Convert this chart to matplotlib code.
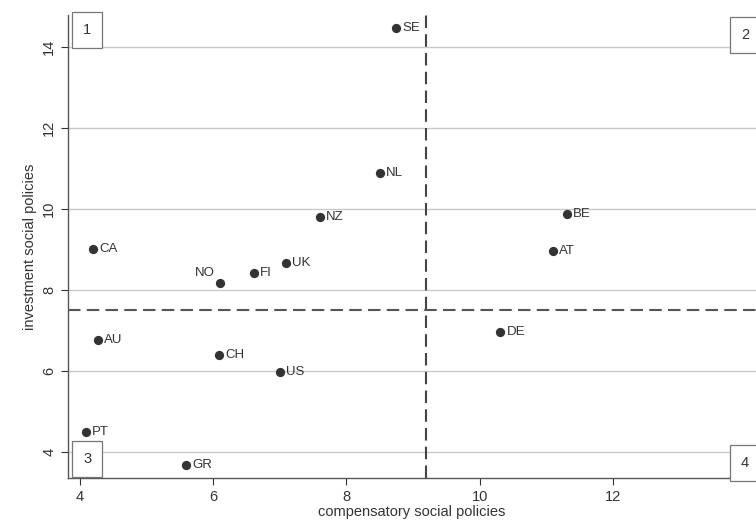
import matplotlib.pyplot as plt

# Country positions: compensatory vs investment social policies
countries = ["SE", "NL", "NZ", "BE", "AT", "CA", "UK", "FI", "NO",
             "DE", "AU", "CH", "US", "PT", "GR"]
compensatory = [8.74, 8.50, 7.60, 11.31, 11.10, 4.20, 7.09, 6.61, 6.10,
                10.31, 4.27, 6.09, 7.00, 4.09, 5.59]
investment = [14.47, 10.89, 9.80, 9.88, 8.96, 9.01, 8.67, 8.42, 8.17,
              6.96, 6.77, 6.40, 5.98, 4.49, 3.68]

# Means used to split the plane into quadrants
x_split = 9.2
y_split = 7.5

x_ticks = [4, 6, 8, 10, 12]
y_ticks = [4, 6, 8, 10, 12, 14]

plt.rcParams['font.family'] = ['Liberation Sans', 'DejaVu Sans']

fig = plt.figure(figsize=(7.56, 5.31), dpi=100)
ax = fig.add_axes([0.09, 0.0998, 0.91, 0.872])
ax.set_xlim(3.82, 14.15)
ax.set_ylim(3.36, 14.79)

# horizontal grid
for y in y_ticks:
    ax.axhline(y, color='#c9c9c9', lw=1.0, zorder=0)

ax.axvline(x_split, color='#444444', lw=1.5, ls=(0, (6, 3)), zorder=1)
ax.axhline(y_split, color='#555555', lw=1.5, ls=(0, (6, 3)), zorder=1)

ax.scatter(compensatory, investment, s=32, color='#333333', zorder=3)

for name, x, y in zip(countries, compensatory, investment):
    if name == "NO":
        ax.annotate(name, (x, y), xytext=(-4, 3), textcoords='offset points',
                    ha='right', va='bottom', fontsize=9.5, color='#333333')
    else:
        ax.annotate(name, (x, y), xytext=(4.5, 0), textcoords='offset points',
                    ha='left', va='center', fontsize=9.5, color='#333333')

# quadrant numbers
box = dict(boxstyle='square,pad=0.75', fc='white', ec='#777777', lw=0.9)
ax.text(0.022, 0.982, "1", transform=ax.transAxes, ha='left', va='top',
        fontsize=10.5, color='#333333', bbox=box)
ax.text(0.99, 0.972, "2", transform=ax.transAxes, ha='right', va='top',
        fontsize=10.5, color='#333333', bbox=box)
ax.text(0.022, 0.025, "3", transform=ax.transAxes, ha='left', va='bottom',
        fontsize=10.5, color='#333333', bbox=box)
ax.text(0.99, 0.018, "4", transform=ax.transAxes, ha='right', va='bottom',
        fontsize=10.5, color='#333333', bbox=box)

ax.set_xticks(x_ticks)
ax.set_yticks(y_ticks)
for t in ax.get_yticklabels():
    t.set_rotation(90)
    t.set_va('center')
ax.tick_params(axis='both', labelsize=10.5, colors='#333333', length=5, width=0.8)

for side in ['top', 'right']:
    ax.spines[side].set_visible(False)
for side in ['left', 'bottom']:
    ax.spines[side].set_color('#555555')
    ax.spines[side].set_linewidth(1.0)

ax.set_xlabel("compensatory social policies", fontsize=10.5, color='#333333', labelpad=1)
ax.set_ylabel("investment social policies", fontsize=10.5, color='#333333', labelpad=4)

fig.savefig("out.png", dpi=100)
